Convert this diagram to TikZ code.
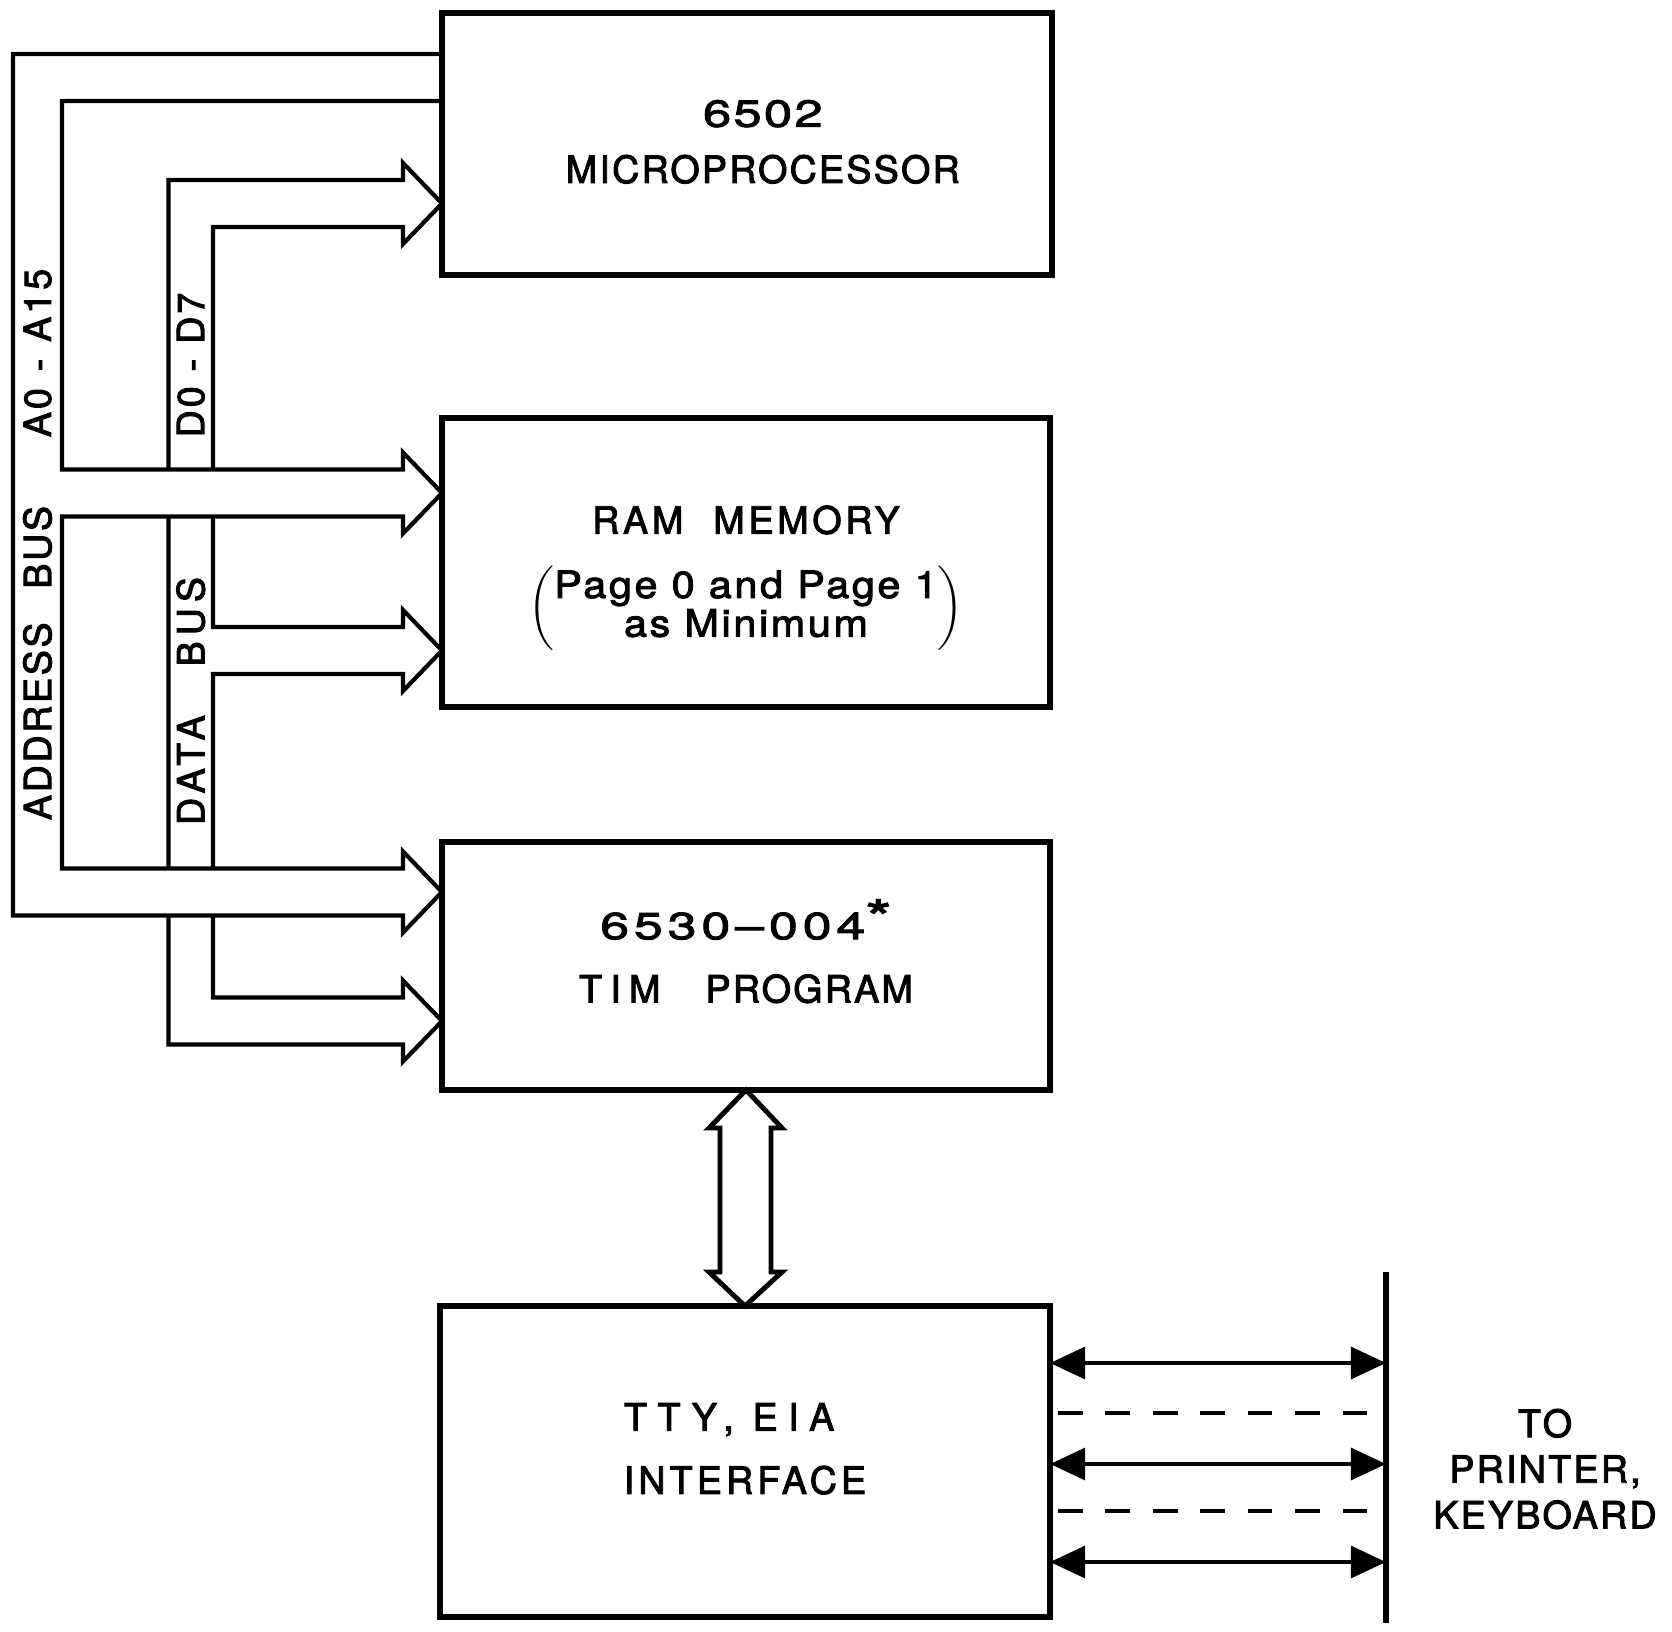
\documentclass[tikz,border=0pt]{standalone}
\usepackage{fontspec}
\newfontfamily\leroy[LetterSpace=6, FakeBold=2.5]{TeX Gyre Heros}
\usetikzlibrary{arrows.meta, backgrounds}
\tikzset{
  txt/.style     = {font=\leroy\fontsize{10.7}{13}\selectfont},
  box/.style     = {rectangle, draw, line width=1.6pt, anchor=north west, outer sep=0pt,
                    inner sep=0pt},
  boxtext/.style = {align=center, inner sep=0pt, txt},
  bus/.style     = {line width=1.2pt, line join=miter},
  bushead/.style = {insert path={|- ([shift={(-0.39,0.235)}]#1) -- ++(0,0.17) -- (#1)
                    -- ++(-0.39,-0.405) -- ++(0,0.17)}},
  lbl/.style     = {rotate=90, inner sep=0pt, txt},
  sig/.style     = {line width=1.3pt, {Triangle[length=10pt,width=9pt]}-{Triangle[length=10pt,width=9pt]}},
  dashline/.style = {line width=1.1pt, dash pattern=on 7pt off 6.5pt},
}

\begin{document}
\begin{tikzpicture}
    \useasboundingbox (0,0) rectangle (16.72,-16.32);

    %% Blocks
    \node[box, minimum width=6.10cm, minimum height=2.62cm] (mpu) at (4.42,-0.13) {};
    \node[box, minimum width=6.08cm, minimum height=2.89cm] (ram) at (4.42,-4.18) {};
    \node[box, minimum width=6.08cm, minimum height=2.48cm] (tim) at (4.42,-8.42) {};
    \node[box, minimum width=6.10cm, minimum height=3.11cm] (tty) at (4.40,-13.06) {};

    %% Block texts
    \node[boxtext] (mpuT) at ([xshift=4.5pt, yshift=0.6pt]mpu.center)
         {{\addfontfeatures{FakeStretch=1.35}6502}\\[3pt]MICROPROCESSOR};
    \node[boxtext] (ramT) at ([yshift=-4.4pt]ram.center)
         {{\addfontfeatures{LetterSpace=10}RAM\hspace{0.8em}MEMORY}\\[8pt]
          $\left(\begin{tabular}{@{}c@{}}\addfontfeatures{FakeStretch=1.1,LetterSpace=7}Page 0 and Page 1\\[-2pt]
          \addfontfeatures{FakeStretch=1.1,LetterSpace=7}as Minimum\end{tabular}\right)$};
    \node[boxtext] (timT) at ([yshift=4.2pt]tim.center)
         {{\addfontfeatures{FakeStretch=1.38,LetterSpace=13}6530–004\raisebox{0.2ex}{\fontsize{14}{14}\selectfont*}}\\[5pt]
          {\addfontfeatures{LetterSpace=22}TIM}\hspace{1.2em}PROGRAM};
    \node[boxtext] (ttyT) at ([yshift=3.6pt]tty.center)
         {{\addfontfeatures{LetterSpace=28}TTY,\hspace{0.5em}EIA}\kern9pt\\[5pt]
          {\addfontfeatures{LetterSpace=11}INTERFACE}};

    %% Bus arrow tips
    \coordinate (mpuD) at (mpu.west |- 0,-2.035);
    \coordinate (ramA) at (ram.west |- 0,-4.93);
    \coordinate (ramD) at (ram.west |- 0,-6.505);
    \coordinate (timA) at (tim.west |- 0,-8.92);
    \coordinate (timD) at (tim.west |- 0,-10.21);

    \begin{pgfonlayer}{background}
      %% Data bus
      \draw[bus] (1.685,-3) [bushead=mpuD] -| (2.13,-4) [bushead=ramD]
                 -| (2.13,-8) [bushead=timD] -| (1.685,-3);
      %% Address bus, over the data bus
      \filldraw[bus, fill=white] (mpu.west |- 0,-1.01) -| (0.62,-4) [bushead=ramA]
                 -| (0.62,-8) [bushead=timA] -| (0.13,-0.54) -- (mpu.west |- 0,-0.54);
    \end{pgfonlayer}

    %% Bus labels
    \node[lbl] (alo) at (0.375,-3.53) {\addfontfeatures{LetterSpace=8}A0\hspace{0.45em}-\hspace{0.45em}A15};
    \node[lbl] (ahi) at (0.375,-6.63) {\addfontfeatures{LetterSpace=7}ADDRESS\hspace{0.9em}BUS};
    \node[lbl] (dlo) at (1.9075,-3.65) {\addfontfeatures{LetterSpace=8}D0\hspace{0.4em}-\hspace{0.4em}D7};
    \node[lbl] (dhi) at (1.9075,-7.01) {\addfontfeatures{LetterSpace=16}DATA\hspace{1.3em}BUS};

    %% TIM <-> interface
    \draw[bus, line width=1.4pt] (tim.south) -- ++(0.36,-0.38) -- ++(-0.11,0) -- ++(0,-1.44)
          -- ++(0.11,0) -- (tty.north) -- ++(-0.36,0.34) -- ++(0.11,0) -- ++(0,1.44)
          -- ++(-0.11,0) -- cycle;

    %% Printer / keyboard lines
    \coordinate (bartop) at (13.86,-12.72);
    \coordinate (barbot) at (13.86,-16.23);
    \draw[line width=1.5pt] (bartop) -- (barbot);
    \foreach \y in {-13.63,-14.64,-15.62}
      \draw[sig] (tty.east |- 0,\y) -- (bartop |- 0,\y);
    \foreach \y in {-14.13,-15.11}
      \draw[dashline] ([xshift=0.08cm]tty.east |- 0,\y) -- (bartop |- 0,\y);

    \node[align=center, txt] (dest) at (15.45,-14.69)
         {\addfontfeatures{LetterSpace=9}TO\\PRINTER,\\KEYBOARD};

\end{tikzpicture}
\end{document}
